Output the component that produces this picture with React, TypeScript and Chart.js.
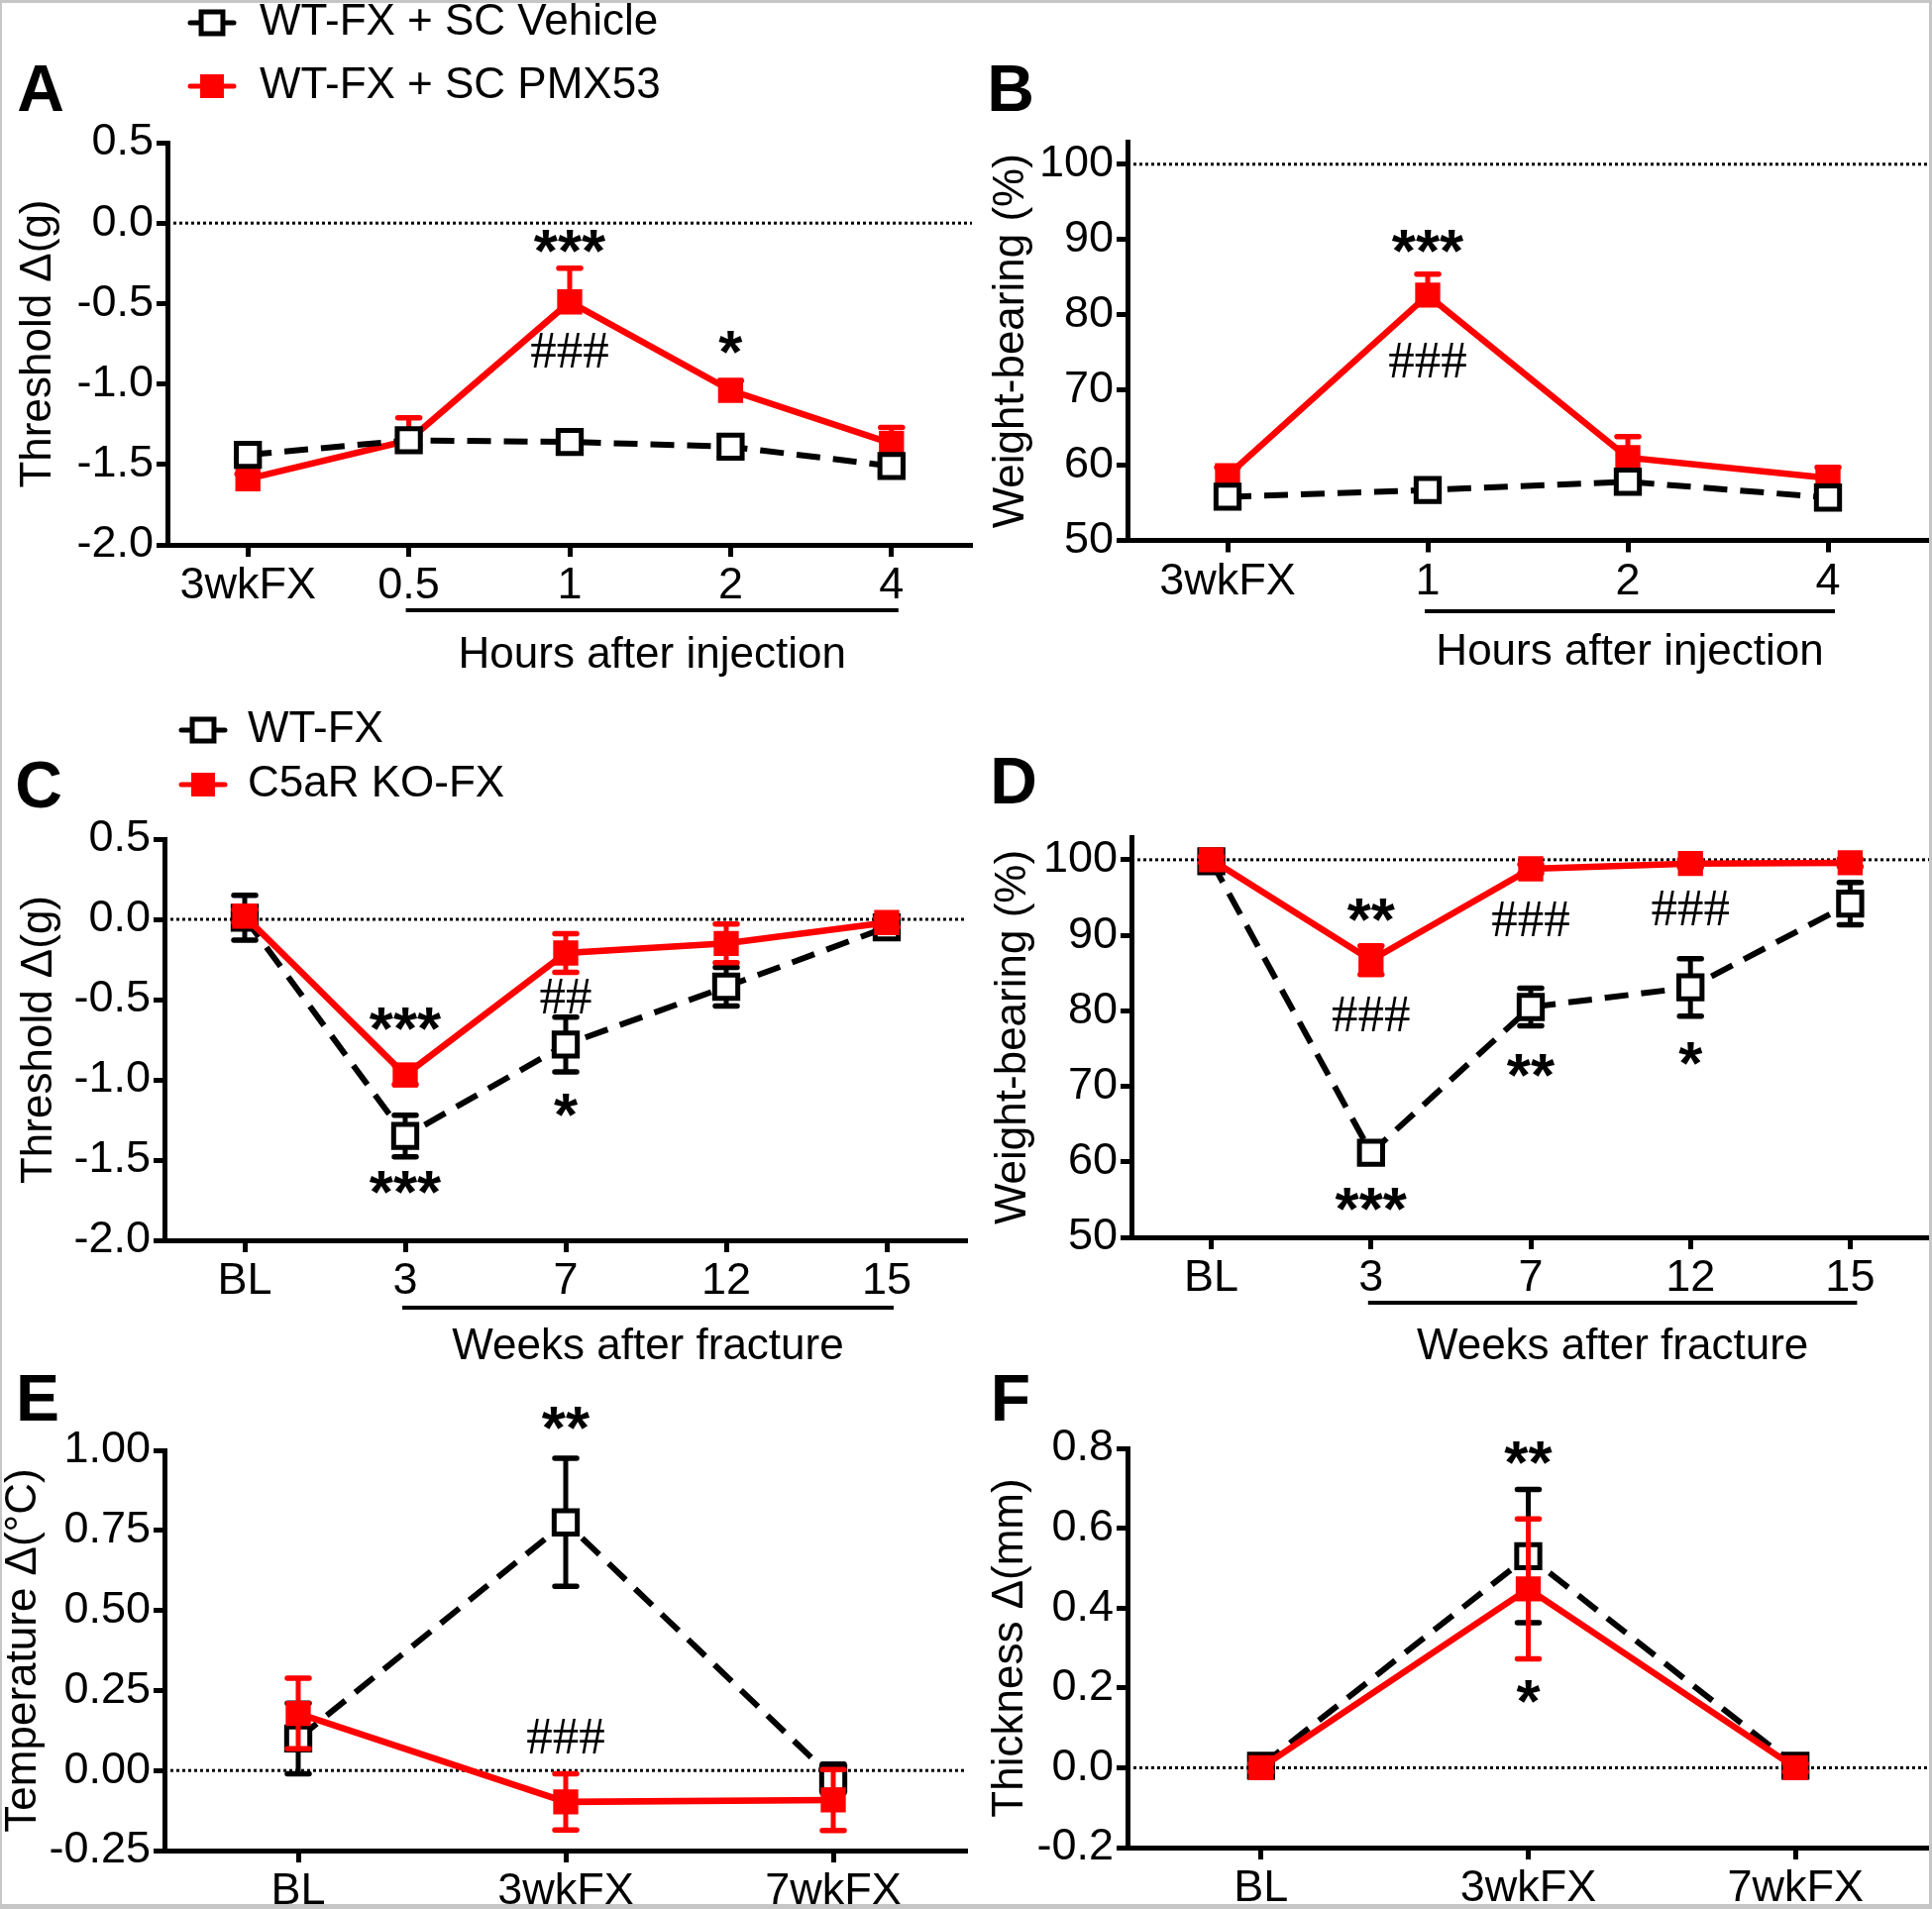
import React, { useEffect, useRef } from 'react';
import { Chart, registerables } from 'chart.js';

Chart.register(...registerables);

const W = 1950;
const H = 1927;
const RED = 'rgb(255,0,0)';
const BLACK = '#000000';
const SANS = '"Liberation Sans", Arial, Helvetica, sans-serif';
const SERIF = '"Liberation Serif", "Times New Roman", serif';

// ---------------- data ----------------
const seriesNames = {
  vehicle: 'WT-FX + SC Vehicle',
  pmx53: 'WT-FX + SC PMX53',
  wt: 'WT-FX',
  ko: 'C5aR KO-FX',
};

// A: mechanical threshold after injection
const aLabels = ['3wkFX', '0.5', '1', '2', '4'];
const aVehicle = [-1.44, -1.35, -1.36, -1.39, -1.51];
const aVehicleSem = [0.04, 0.03, 0.03, 0.06, 0.04];
const aPmx53 = [-1.59, -1.35, -0.49, -1.04, -1.37];
const aPmx53Sem = [0.03, 0.14, 0.21, 0.06, 0.1];
const aMarks = [
  { text: '***', at: 2, value: -0.11 },
  { text: '###', at: 2, value: -0.79 },
  { text: '*', at: 3, value: -0.74 },
];

// B: weight bearing after injection
const bLabels = ['3wkFX', '1', '2', '4'];
const bVehicle = [55.8, 56.7, 57.8, 55.7];
const bVehicleSem = [0.8, 0.8, 1.0, 0.8];
const bPmx53 = [58.6, 82.6, 61.0, 58.3];
const bPmx53Sem = [1.1, 2.8, 2.8, 1.4];
const bMarks = [
  { text: '***', at: 1, value: 89.8 },
  { text: '###', at: 1, value: 73.9 },
];

// C: mechanical threshold after fracture
const cLabels = ['BL', '3', '7', '12', '15'];
const cWt = [0.01, -1.35, -0.78, -0.42, -0.05];
const cWtSem = [0.14, 0.13, 0.17, 0.12, 0.03];
const cKo = [0.02, -0.97, -0.21, -0.15, -0.02];
const cKoSem = [0.04, 0.06, 0.12, 0.12, 0.03];
const cMarks = [
  { text: '***', at: 1, value: -0.62 },
  { text: '***', at: 1, value: -1.64 },
  { text: '##', at: 2, value: -0.48 },
  { text: '*', at: 2, value: -1.16 },
];

// D: weight bearing after fracture
const dLabels = ['BL', '3', '7', '12', '15'];
const dWt = [99.8, 61.2, 80.5, 83.1, 94.2];
const dWtSem = [0.5, 0.8, 2.5, 3.8, 2.8];
const dKo = [100, 86.7, 98.8, 99.5, 99.6];
const dKoSem = [0.4, 1.9, 0.6, 0.5, 0.5];
const dMarks = [
  { text: '**', at: 1, value: 93.3 },
  { text: '###', at: 1, value: 79.6 },
  { text: '###', at: 2, value: 92.2 },
  { text: '###', at: 3, value: 93.6 },
  { text: '***', at: 1, value: 55.0 },
  { text: '**', at: 2, value: 72.8 },
  { text: '*', at: 3, value: 74.3 },
];

// E: temperature
const eLabels = ['BL', '3wkFX', '7wkFX'];
const eWt = [0.1, 0.775, -0.025];
const eWtSem = [0.11, 0.2, 0.045];
const eKo = [0.178, -0.098, -0.092];
const eKoSem = [0.11, 0.088, 0.095];
const eMarks = [
  { text: '**', at: 1, value: 1.1 },
  { text: '###', at: 1, value: 0.108 },
];

// F: thickness
const fLabels = ['BL', '3wkFX', '7wkFX'];
const fWt = [0.005, 0.53, 0.005];
const fWtSem = [0.01, 0.167, 0.01];
const fKo = [0, 0.448, 0];
const fKoSem = [0.01, 0.175, 0.01];
const fMarks = [
  { text: '**', at: 1, value: 0.79 },
  { text: '*', at: 1, value: 0.19 },
];

// ---------------- panel specs (layout + data refs) ----------------
type Mark = { text: string; at: number; value: number };
type Series = { label: string; data: number[]; sem: number[]; mode: 'up' | 'both' };
type PanelSpec = {
  key: string;
  letter: string;
  letterPos: [number, number];
  area: { left: number; top: number; right: number; bottom: number };
  yAxisWidth: number;
  yTitlePad: number;
  labels: string[];
  yMin: number;
  yMax: number;
  yStep: number;
  yDecimals: number;
  yTitle: string;
  refLine: number;
  black: Series;
  red: Series;
  redOnTop: boolean;
  marks: Mark[];
  bracket?: { from: number; to: number; title: string; lineY: number; titleY: number };
  legend?: { x: number; textX: number; rows: [number, number] };
};

const panels: PanelSpec[] = [
  {
    key: 'A', letter: 'A', letterPos: [41, 89],
    area: { left: 169, top: 144, right: 981, bottom: 550 },
    yAxisWidth: 169, yTitlePad: 17,
    labels: aLabels, yMin: -2, yMax: 0.5, yStep: 0.5, yDecimals: 1, yTitle: 'Threshold Δ(g)', refLine: 0,
    black: { label: seriesNames.vehicle, data: aVehicle, sem: aVehicleSem, mode: 'both' },
    red: { label: seriesNames.pmx53, data: aPmx53, sem: aPmx53Sem, mode: 'up' },
    redOnTop: false, marks: aMarks,
    bracket: { from: 1, to: 4, title: 'Hours after injection', lineY: 616, titleY: 662 },
    legend: { x: 214, textX: 262, rows: [23, 87] },
  },
  {
    key: 'B', letter: 'B', letterPos: [1020, 89],
    area: { left: 1138, top: 143, right: 1946, bottom: 545.5 },
    yAxisWidth: 150, yTitlePad: 11,
    labels: bLabels, yMin: 50, yMax: 103, yStep: 10, yDecimals: 0, yTitle: 'Weight-bearing (%)', refLine: 100,
    black: { label: seriesNames.vehicle, data: bVehicle, sem: bVehicleSem, mode: 'both' },
    red: { label: seriesNames.pmx53, data: bPmx53, sem: bPmx53Sem, mode: 'up' },
    redOnTop: false, marks: bMarks,
    bracket: { from: 1, to: 3, title: 'Hours after injection', lineY: 617, titleY: 659 },
  },
  {
    key: 'C', letter: 'C', letterPos: [39, 792],
    area: { left: 166, top: 847, right: 976, bottom: 1252 },
    yAxisWidth: 166, yTitlePad: 18,
    labels: cLabels, yMin: -2, yMax: 0.5, yStep: 0.5, yDecimals: 1, yTitle: 'Threshold Δ(g)', refLine: 0,
    black: { label: seriesNames.wt, data: cWt, sem: cWtSem, mode: 'both' },
    red: { label: seriesNames.ko, data: cKo, sem: cKoSem, mode: 'both' },
    redOnTop: true, marks: cMarks,
    bracket: { from: 1, to: 4, title: 'Weeks after fracture', lineY: 1320, titleY: 1360 },
    legend: { x: 205, textX: 250, rows: [737, 792] },
  },
  {
    key: 'D', letter: 'D', letterPos: [1023, 788],
    area: { left: 1142, top: 845, right: 1948, bottom: 1249 },
    yAxisWidth: 150, yTitlePad: 9,
    labels: dLabels, yMin: 50, yMax: 103, yStep: 10, yDecimals: 0, yTitle: 'Weight-bearing (%)', refLine: 100,
    black: { label: seriesNames.wt, data: dWt, sem: dWtSem, mode: 'both' },
    red: { label: seriesNames.ko, data: dKo, sem: dKoSem, mode: 'both' },
    redOnTop: true, marks: dMarks,
    bracket: { from: 1, to: 4, title: 'Weeks after fracture', lineY: 1315, titleY: 1360 },
  },
  {
    key: 'E', letter: 'E', letterPos: [38, 1411],
    area: { left: 166, top: 1464, right: 976, bottom: 1868 },
    yAxisWidth: 166, yTitlePad: 2,
    labels: eLabels, yMin: -0.25, yMax: 1, yStep: 0.25, yDecimals: 2, yTitle: 'Temperature Δ(°C)', refLine: 0,
    black: { label: seriesNames.wt, data: eWt, sem: eWtSem, mode: 'both' },
    red: { label: seriesNames.ko, data: eKo, sem: eKoSem, mode: 'both' },
    redOnTop: true, marks: eMarks,
  },
  {
    key: 'F', letter: 'F', letterPos: [1020, 1411],
    area: { left: 1138, top: 1462, right: 1947, bottom: 1865 },
    yAxisWidth: 150, yTitlePad: 10,
    labels: fLabels, yMin: -0.2, yMax: 0.8, yStep: 0.2, yDecimals: 1, yTitle: 'Thickness Δ(mm)', refLine: 0,
    black: { label: seriesNames.wt, data: fWt, sem: fWtSem, mode: 'both' },
    red: { label: seriesNames.ko, data: fKo, sem: fKoSem, mode: 'both' },
    redOnTop: true, marks: fMarks,
  },
];

// ---------------- drawing helpers ----------------
const X_AXIS_HEIGHT = 59;
const POINT_R = 16.5;
const CAP_HALF = 11;

function fillCentered(ctx: CanvasRenderingContext2D, text: string, x: number, cy: number) {
  ctx.textBaseline = 'alphabetic';
  const mt = ctx.measureText(text);
  const asc = mt.actualBoundingBoxAscent;
  const desc = mt.actualBoundingBoxDescent;
  ctx.fillText(text, x, cy + (asc - desc) / 2);
}

function makePlugin(p: PanelSpec) {
  return {
    id: 'figure' + p.key,
    beforeDatasetsDraw(chart: any) {
      const { ctx, chartArea } = chart;
      const y = chart.scales.y.getPixelForValue(p.refLine);
      ctx.save();
      ctx.strokeStyle = BLACK;
      ctx.lineWidth = 3;
      ctx.setLineDash([3, 3]);
      ctx.beginPath();
      ctx.moveTo(chartArea.left + 6, y);
      ctx.lineTo(chartArea.right, y);
      ctx.stroke();
      ctx.restore();
    },
    beforeDatasetDraw(chart: any, args: any) {
      const ds: any = chart.data.datasets[args.index];
      const meta = chart.getDatasetMeta(args.index);
      const ys = chart.scales.y;
      const ctx = chart.ctx;
      ctx.save();
      ctx.strokeStyle = ds.borderColor;
      ctx.setLineDash([]);
      ds.data.forEach((v: number, i: number) => {
        const e = ds.sem[i];
        const x = meta.data[i].x;
        const yc = ys.getPixelForValue(v);
        const yu = ys.getPixelForValue(v + e);
        const yd = ds.semMode === 'up' ? yc : ys.getPixelForValue(v - e);
        ctx.lineWidth = 5;
        ctx.lineCap = 'butt';
        ctx.beginPath();
        ctx.moveTo(x, yu);
        ctx.lineTo(x, yd);
        ctx.stroke();
        ctx.lineWidth = 5.5;
        ctx.lineCap = 'round';
        ctx.beginPath();
        ctx.moveTo(x - CAP_HALF, yu);
        ctx.lineTo(x + CAP_HALF, yu);
        if (ds.semMode !== 'up') {
          ctx.moveTo(x - CAP_HALF, yd);
          ctx.lineTo(x + CAP_HALF, yd);
        }
        ctx.stroke();
      });
      ctx.restore();
    },
    afterDraw(chart: any) {
      const { ctx } = chart;
      const xs = chart.scales.x;
      const ys = chart.scales.y;
      ctx.save();
      ctx.fillStyle = BLACK;
      // panel letter
      ctx.font = `bold 66px ${SANS}`;
      ctx.textAlign = 'center';
      fillCentered(ctx, p.letter, p.letterPos[0], p.letterPos[1]);

      // legend
      if (p.legend) {
        const lg = p.legend;
        chart.data.datasets.forEach((ds: any, i: number) => {
          const y = lg.rows[i];
          const x = lg.x;
          ctx.setLineDash([]);
          ctx.strokeStyle = ds.borderColor;
          ctx.lineWidth = 5;
          ctx.lineCap = 'round';
          ctx.beginPath();
          ctx.moveTo(x - 22, y);
          ctx.lineTo(x + 22, y);
          ctx.stroke();
          const half = 15.5 * Math.SQRT1_2;
          ctx.fillStyle = ds.pointBackgroundColor;
          ctx.strokeStyle = ds.pointBorderColor;
          ctx.lineWidth = ds.pointBorderWidth;
          ctx.lineCap = 'butt';
          ctx.beginPath();
          ctx.rect(x - half, y - half, 2 * half, 2 * half);
          ctx.fill();
          ctx.stroke();
          ctx.fillStyle = BLACK;
          ctx.font = `44px ${SANS}`;
          ctx.textAlign = 'left';
          ctx.textBaseline = 'middle';
          ctx.fillText(ds.label, lg.textX, y);
        });
      }

      // bracket + x title
      if (p.bracket) {
        const b = p.bracket;
        const x1 = xs.getPixelForValue(b.from) - 3;
        const x2 = xs.getPixelForValue(b.to) + 7;
        ctx.strokeStyle = BLACK;
        ctx.lineWidth = 4;
        ctx.lineCap = 'butt';
        ctx.setLineDash([]);
        ctx.beginPath();
        ctx.moveTo(x1, b.lineY);
        ctx.lineTo(x2, b.lineY);
        ctx.stroke();
        ctx.fillStyle = BLACK;
        ctx.font = `44px ${SANS}`;
        ctx.textAlign = 'center';
        ctx.textBaseline = 'middle';
        ctx.fillText(b.title, (x1 + x2) / 2, b.titleY);
      }

      // significance marks
      p.marks.forEach((m) => {
        const isHash = m.text.indexOf('#') >= 0;
        ctx.font = isHash ? `53px ${SERIF}` : `bold 62px ${SANS}`;
        ctx.textAlign = 'center';
        ctx.fillStyle = BLACK;
        fillCentered(ctx, m.text, xs.getPixelForValue(m.at), ys.getPixelForValue(m.value));
      });
      ctx.restore();
    },
  };
}

function makeDataset(s: Series, isRed: boolean, onTop: boolean) {
  return {
    label: s.label,
    data: s.data,
    sem: s.sem,
    semMode: s.mode,
    order: onTop ? 0 : 1,
    borderColor: isRed ? RED : BLACK,
    borderWidth: isRed ? 6.5 : 6,
    borderDash: isRed ? [] : [24, 13],
    tension: 0,
    clip: false,
    pointStyle: 'rect',
    pointRadius: POINT_R,
    pointHoverRadius: POINT_R,
    pointBackgroundColor: isRed ? RED : '#ffffff',
    pointBorderColor: isRed ? RED : BLACK,
    pointBorderWidth: isRed ? 2 : 5,
    pointHoverBorderWidth: isRed ? 2 : 5,
  };
}

function makeConfig(p: PanelSpec): any {
  const tickFont = { family: SANS, size: 45 };
  return {
    type: 'line',
    data: {
      labels: p.labels,
      datasets: [makeDataset(p.black, false, !p.redOnTop), makeDataset(p.red, true, p.redOnTop)],
    },
    options: {
      responsive: false,
      animation: false,
      devicePixelRatio: 1,
      events: [],
      layout: {
        autoPadding: false,
        padding: {
          left: p.area.left - p.yAxisWidth,
          top: p.area.top,
          right: W - p.area.right,
          bottom: Math.max(0, H - p.area.bottom - X_AXIS_HEIGHT),
        },
      },
      plugins: {
        legend: { display: false },
        tooltip: { enabled: false },
        title: { display: false },
      },
      scales: {
        x: {
          type: 'category',
          offset: true,
          ticks: { font: tickFont, color: BLACK, padding: 3, maxRotation: 0, autoSkip: false },
          grid: { display: true, drawOnChartArea: false, drawTicks: true, tickLength: 12, tickWidth: 5, tickColor: BLACK, offset: false },
          border: { display: true, color: BLACK, width: 5 },
          afterFit: (s: any) => { s.height = X_AXIS_HEIGHT; },
        },
        y: {
          type: 'linear',
          min: p.yMin,
          max: p.yMax,
          ticks: {
            stepSize: p.yStep,
            includeBounds: false,
            font: tickFont,
            color: BLACK,
            padding: 3,
            callback: (v: any) => Number(v).toFixed(p.yDecimals),
          },
          grid: { display: true, drawOnChartArea: false, drawTicks: true, tickLength: 11, tickWidth: 5, tickColor: BLACK },
          border: { display: true, color: BLACK, width: 5 },
          title: {
            display: true,
            text: p.yTitle,
            color: BLACK,
            font: { family: SANS, size: 44, lineHeight: 1 },
            padding: { top: p.yTitlePad, bottom: 0 },
          },
          afterFit: (s: any) => { s.width = p.yAxisWidth; },
        },
      },
    },
    plugins: [makePlugin(p)],
  };
}

function Panel({ spec }: { spec: PanelSpec }) {
  const ref = useRef<HTMLCanvasElement | null>(null);
  useEffect(() => {
    if (!ref.current) return;
    const chart = new Chart(ref.current, makeConfig(spec));
    return () => chart.destroy();
  }, [spec]);
  return (
    <canvas
      ref={ref}
      width={W}
      height={H}
      style={{ position: 'absolute', left: 0, top: 0, width: W, height: H }}
    />
  );
}

export default function App() {
  return (
    <div style={{ position: 'absolute', left: 0, top: 0, width: W, height: H, background: '#ffffff', overflow: 'hidden' }}>
      {panels.map((p) => (
        <Panel key={p.key} spec={p} />
      ))}
      <div
        style={{
          position: 'absolute', left: 0, top: 0, width: W, height: H, boxSizing: 'border-box',
          borderStyle: 'solid', borderColor: '#c6c6c6', borderWidth: '3px 3px 5px 2px', pointerEvents: 'none',
        }}
      />
    </div>
  );
}
